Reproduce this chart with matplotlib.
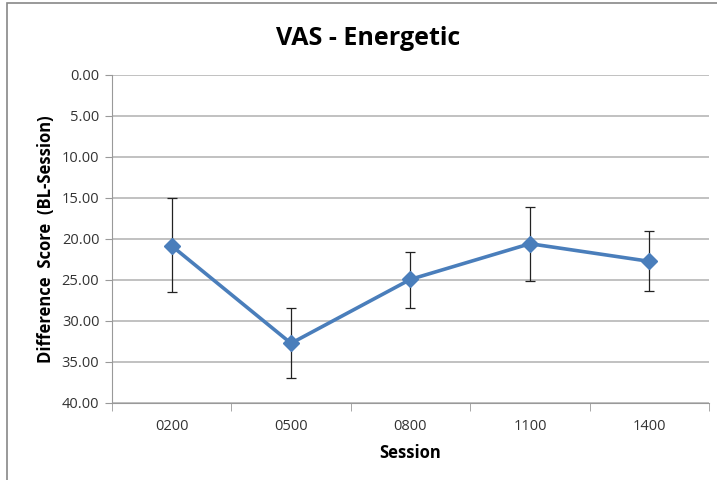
import numpy as np
import matplotlib.pyplot as plt
from matplotlib.patches import Rectangle

# --- dados ---
sessoes = ["0200", "0500", "0800", "1100", "1400"]
media = [20.85, 32.75, 24.95, 20.6, 22.75]
erro_inf = [5.85, 4.25, 3.35, 4.5, 3.65]   # em direção ao topo (valor menor)
erro_sup = [5.65, 4.25, 3.45, 4.5, 3.65]   # em direção à base (valor maior)
yticks = [0, 5, 10, 15, 20, 25, 30, 35, 40]

plt.rcParams['font.family'] = ['Open Sans', 'DejaVu Sans']

fig = plt.figure(figsize=(7.17, 4.8), dpi=100)
ax = fig.add_axes([0.156, 0.161, 0.833, 0.683])

x = np.arange(len(sessoes))
ax.errorbar(x, media, yerr=[erro_inf, erro_sup], fmt='none', ecolor='#222222',
            elinewidth=0.9, capsize=3.5, capthick=0.9, zorder=2)
ax.plot(x, media, color='#4A7EBB', linewidth=2.6, marker='D', markersize=8,
        zorder=3)

ax.set_ylim(40, 0)
ax.set_yticks(yticks)
ax.set_yticklabels([f"{v:.2f}" for v in yticks], fontsize=10.5, color='#333333')
ax.set_xlim(-0.5, len(sessoes) - 0.5)
ax.set_xticks(x)
ax.set_xticklabels(sessoes, fontsize=10.5, color='#333333')
ax.set_xticks(np.arange(-0.5, len(sessoes)), minor=True)
ax.tick_params(axis='x', which='major', length=0, pad=12)
ax.tick_params(axis='x', which='minor', length=6, color='#999999')
ax.tick_params(axis='y', length=5, color='#999999', pad=4)

ax.grid(True, axis='y', color='#b0b0b0', linewidth=1.1)
ax.set_axisbelow(True)
for s in ['top', 'right']:
    ax.spines[s].set_visible(False)
for s in ['left', 'bottom']:
    ax.spines[s].set_color('#999999')

ax.set_xlabel("Session", fontsize=12, fontweight='bold', labelpad=7)
ax.set_ylabel("Difference  Score  (BL-Session)", fontsize=12, fontweight='bold',
              labelpad=5)
fig.text(0.513, 0.92, "VAS - Energetic", ha='center', va='center',
         fontsize=18, fontweight='bold')

# borda da área do gráfico
fig.patches.append(Rectangle((7 / 717, -0.1), 1.1, 1 - 3 / 480 + 0.1,
                             transform=fig.transFigure, fill=False,
                             edgecolor='#888888', linewidth=1.2))

fig.savefig("out.png", dpi=100)
